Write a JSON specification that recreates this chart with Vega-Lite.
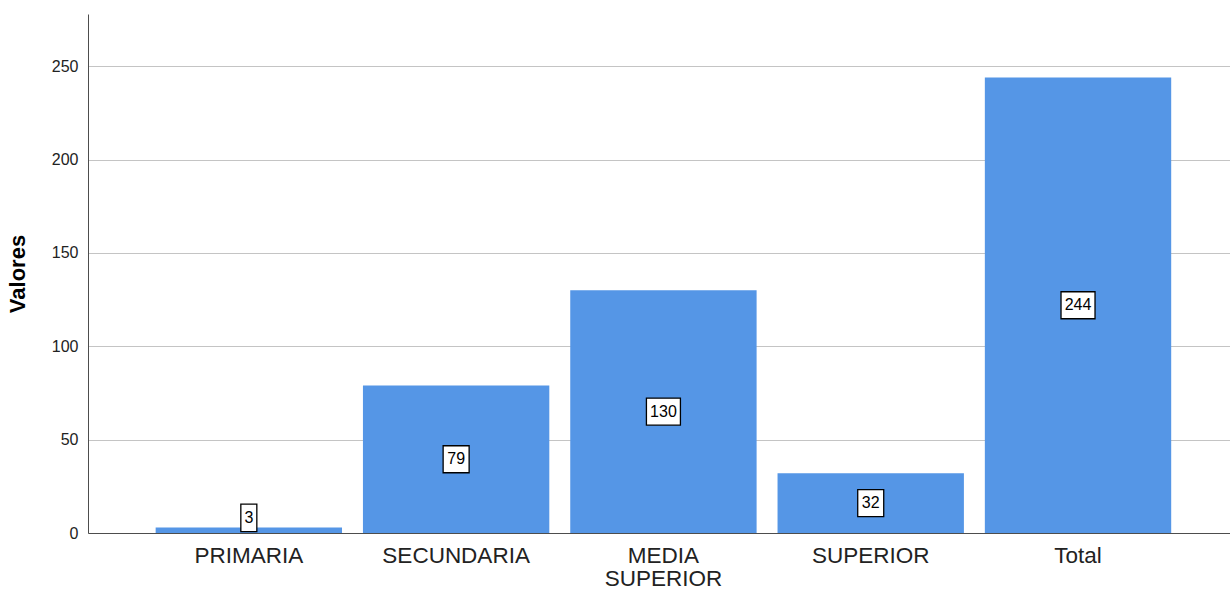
{
  "$schema": "https://vega.github.io/schema/vega-lite/v6.json",
  "width": 1142,
  "height": 519,
  "autosize": {"type": "none"},
  "padding": {"left": 88, "top": 14, "right": 0, "bottom": 58},
  "background": "white",
  "config": {"view": {"stroke": null}, "font": "Liberation Sans"},
  "data": {
    "values": [
      {"nivel": "PRIMARIA", "value": 3},
      {"nivel": "SECUNDARIA", "value": 79},
      {"nivel": "MEDIA SUPERIOR", "value": 130},
      {"nivel": "SUPERIOR", "value": 32},
      {"nivel": "Total", "value": 244}
    ]
  },
  "encoding": {
    "x": {
      "field": "nivel",
      "type": "nominal",
      "sort": null,
      "scale": {"paddingInner": 0.101, "paddingOuter": 0.305, "align": 0.535},
      "axis": {
        "title": null,
        "labelAngle": 0,
        "ticks": false,
        "domain": true,
        "domainColor": "#4d4d4d",
        "domainWidth": 1,
        "labelFontSize": 22.5,
        "labelColor": "#222222",
        "labelPadding": 11,
        "labelLineHeight": 23,
        "labelExpr": "datum.label == 'MEDIA SUPERIOR' ? ['MEDIA', 'SUPERIOR'] : datum.label",
        "grid": false
      }
    }
  },
  "layer": [
    {
      "mark": {"type": "bar", "color": "#5596E6"},
      "encoding": {
        "y": {
          "field": "value",
          "type": "quantitative",
          "scale": {"domain": [0, 278], "nice": false},
          "axis": {
            "values": [0, 50, 100, 150, 200, 250],
            "ticks": false,
            "labelPadding": 10,
            "labelFontSize": 16,
            "labelColor": "#222222",
            "grid": true,
            "gridColor": "#c4c4c4",
            "gridWidth": 1,
            "domain": true,
            "domainColor": "#4d4d4d",
            "domainWidth": 1,
            "title": "Valores",
            "titleFontSize": 22,
            "titleFontWeight": "bold",
            "titleColor": "#000000",
            "titlePadding": 22
          }
        }
      }
    },
    {
      "mark": {"type": "point", "filled": true, "fill": "white", "stroke": "black", "strokeWidth": 1.3, "opacity": 1, "size": 4},
      "encoding": {
        "y": {"field": "value", "type": "quantitative", "stack": "zero", "bandPosition": 0.5},
        "shape": {
          "condition": [
            {"test": "datum.value < 10", "value": "M-8,-26H8V1.5H-8Z"},
            {"test": "datum.value < 100", "value": "M-13,-13.5H13V13.5H-13Z"}
          ],
          "value": "M-17,-13.5H17V13.5H-17Z"
        }
      }
    },
    {
      "mark": {"type": "text", "fontSize": 16, "color": "black", "align": "center", "baseline": "middle", "dy": {"expr": "datum.value < 10 ? -12 : 0"}},
      "encoding": {
        "y": {"field": "value", "type": "quantitative", "stack": "zero", "bandPosition": 0.5},
        "text": {"field": "value", "type": "quantitative"}
      }
    }
  ]
}
